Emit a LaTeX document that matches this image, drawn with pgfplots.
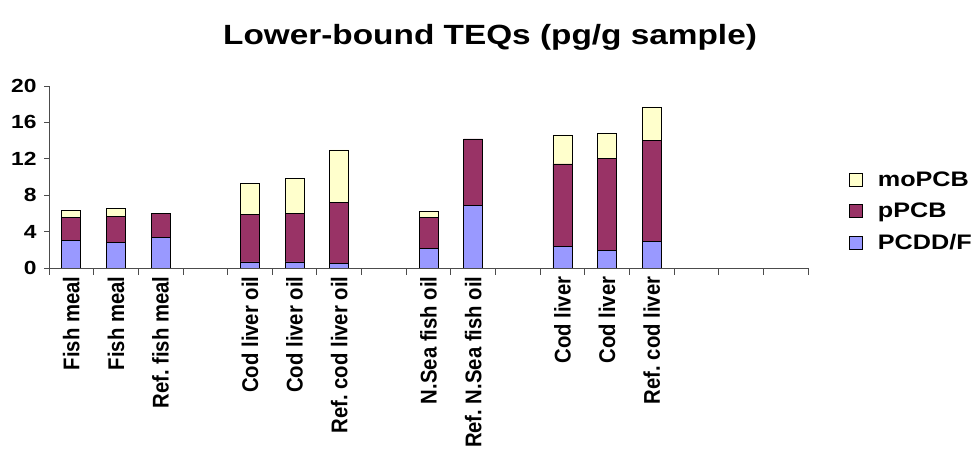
\documentclass[border=0pt]{standalone}
\usepackage{fontspec}
\setmainfont{Liberation Sans}
\newfontfamily\widefont[FakeStretch=1.2]{Liberation Sans}
\usepackage{graphicx}
\usepackage{pgfplots}
\pgfplotsset{compat=1.18}
\frenchspacing
\definecolor{moPCB}{HTML}{FFFFCC}
\definecolor{pPCB}{HTML}{993366}
\definecolor{PCDD}{HTML}{9999FF}
\newcommand\lbl[1]{\scalebox{1}[1.12]{#1}}

% x = category slot (gaps at 3, 7, 10, 14-16)
\pgfplotstableread{
x  PCDD  pPCB   moPCB
0  3.00  2.52   0.84
1  2.85  2.85   0.81
2  3.36  2.67   0
4  0.66  5.26   3.40
5  0.66  5.37   3.81
6  0.48  6.76   5.74
8  2.12  3.40   0.70
9  6.91  7.28   0
11 2.38  9.06   3.19
12 1.94  10.09  2.78
13 2.96  11.08  3.66
}\teq

\begin{document}
\begin{tikzpicture}
\useasboundingbox (0,0) rectangle (971pt,457pt);
\node[anchor=base, font=\widefont\bfseries\fontsize{27.8}{30}\selectfont] at (490pt,412pt)
  {Lower-bound TEQs (pg/g sample)};
\begin{axis}[
  at={(49pt,189pt)}, anchor=south west,
  scale only axis, width=759pt, height=182pt,
  ybar stacked, bar width=19pt,
  xmin=-0.5, xmax=16.5, ymin=0, ymax=20,
  axis x line*=bottom, axis y line*=left,
  axis line style={black!70, line width=0.8pt},
  ytick={0,4,...,20},
  xtick={0,...,16},
  xticklabels={\lbl{Fish meal}, \lbl{Fish meal}, \lbl{Ref. fish meal}, ,
    \lbl{Cod liver oil}, \lbl{Cod liver oil}, \lbl{Ref. cod liver oil}, ,
    \lbl{N.Sea fish oil}, \lbl{Ref. N.Sea fish oil}, ,
    \lbl{Cod liver}, \lbl{Cod liver}, \lbl{Ref. cod liver}, , , },
  minor xtick={-0.5,0.5,...,16.5},
  tick align=outside, major tick length=5pt, minor tick length=7pt,
  major x tick style={draw=none},
  tick style={black!70, line width=0.8pt},
  x tick label style={rotate=90, anchor=east,
    font=\bfseries\fontsize{20.3}{21}\selectfont},
  y tick label style={xshift=-4pt, font=\widefont\bfseries\fontsize{19}{20}\selectfont},
  /pgf/number format/assume math mode=true,
  every axis plot/.append style={draw=black, line width=0.7pt},
  legend style={at={(1.05,0.31)}, anchor=west, draw=none, fill=none,
    font=\widefont\bfseries\fontsize{21}{22}\selectfont, row sep=11pt,
    /tikz/every odd column/.append style={column sep=13pt}},
  legend cell align=left, reverse legend,
  legend image code/.code={\draw[#1, line width=0.7pt] (0pt,-6.5pt) rectangle (13pt,6.5pt);},
]
\addplot[fill=PCDD] table[x=x, y=PCDD] {\teq};
\addplot[fill=pPCB] table[x=x, y=pPCB] {\teq};
\addplot[fill=moPCB] table[x=x, y=moPCB] {\teq};
\legend{PCDD/F, pPCB, moPCB}
\end{axis}
\end{tikzpicture}
\end{document}
